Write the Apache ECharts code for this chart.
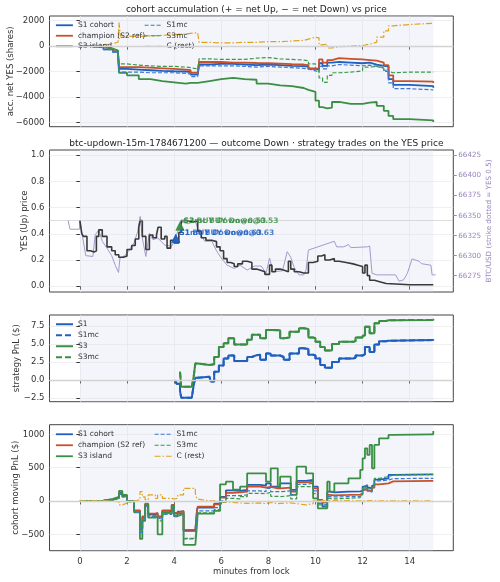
<!DOCTYPE html>
<html>
<head>
<meta charset="utf-8">
<script src="https://cdn.jsdelivr.net/npm/echarts@6.0.0/dist/echarts.min.js"></script>
<style>
  html, body { margin: 0; padding: 0; background: #fff; }
  #chart { width: 500px; height: 582px; }
</style>
</head>
<body>
<div id="chart"></div>
<script>
// ---- panel 1: accumulated net YES shares per cohort
var accMinutes = [0, 0.5, 1.0, 1.4, 1.62, 1.66, 1.72, 2.0, 2.5, 3.0, 3.5, 4.0, 4.5, 4.7, 5.0, 5.06, 5.5, 6.0, 6.5, 7.0,
  7.5, 8.0, 8.5, 9.0, 9.5, 9.7, 10.0, 10.15, 10.3, 10.5, 10.7, 11.0, 11.5, 12.0, 12.3, 12.6, 12.9, 13.1, 13.3, 14.0, 15.0];
var accS1 = [0, -80, -250, -450, -650, -1800, -1800, -1850, -1900, -1950, -1980, -2000, -2050, -2250, -2200, -1450, -1400, -1400, -1450, -1500,
  -1450, -1500, -1550, -1580, -1620, -1800, -1850, -1350, -1550, -1300, -1250, -1300, -1350, -1300, -1450, -1550, -1600, -2600, -3050, -3150, -3270];
var accChamp = [0, -60, -200, -400, -600, -1650, -1650, -1650, -1700, -1750, -1800, -1850, -1900, -2100, -2050, -1250, -1250, -1300, -1300, -1330,
  -1350, -1380, -1420, -1450, -1500, -1750, -1800, -1050, -1300, -1100, -950, -1000, -1050, -1100, -1150, -1300, -1500, -2300, -2750, -2800, -2900];
var accS3 = [0, -50, -200, -350, -600, -2100, -2100, -2300, -2600, -2750, -2850, -2950, -2900, -2900, -2850, -2750, -2600, -2500, -2600, -2650,
  -2950, -3100, -3150, -3300, -3450, -3600, -4300, -4800, -4900, -4850, -4400, -4550, -4550, -4450, -4400, -4700, -5100, -5500, -5750, -5850, -5980];
var accS1mc = [0, -100, -280, -500, -700, -2050, -2050, -2050, -2100, -2100, -2100, -2150, -2200, -2400, -2350, -1550, -1550, -1550, -1600, -1650,
  -1600, -1650, -1700, -1750, -1800, -1950, -2050, -1600, -1800, -1550, -1450, -1500, -1550, -1500, -1600, -1700, -1900, -2900, -3350, -3450, -3490];
var accS3mc = [0, -50, -200, -350, -550, -1400, -1400, -1500, -1550, -1600, -1600, -1650, -1700, -1800, -1750, -1000, -1050, -1050, -1050, -950,
  -900, -1000, -1050, -1100, -1150, -1400, -1900, -2500, -2850, -2300, -2100, -2050, -1950, -1650, -1600, -1750, -2000, -2100, -2050, -2050, -2040];
var accRest = [0, 80, 200, 300, 400, 1850, 800, 750, 800, 850, 900, 950, 1000, 1050, 1000, 300, 250, 250, 300, 300,
  350, 350, 400, 450, 550, 700, 650, 100, 150, -150, -50, 0, 50, 150, 300, 700, 1200, 1600, 1700, 1800, 1780];

// ---- panel 2: YES price and BTC
var yesMinutes = [0, 0.08, 0.15, 0.3, 0.45, 0.6, 0.7, 0.8, 0.95, 1.15, 1.35, 1.5, 1.65, 1.85, 2.0, 2.2, 2.35, 2.5, 2.56, 2.65,
  2.8, 2.95, 3.1, 3.25, 3.32, 3.45, 3.6, 3.7, 3.85, 4.0, 4.2, 4.3, 4.45, 4.6, 4.8, 5.0, 5.15, 5.35, 5.6, 5.8,
  5.95, 6.1, 6.25, 6.4, 6.55, 6.7, 6.9, 7.1, 7.3, 7.5, 7.7, 7.85, 8.05, 8.15, 8.3, 8.5, 8.7, 8.85, 8.95, 9.1,
  9.3, 9.5, 9.7, 9.9, 10.1, 10.25, 10.4, 10.6, 10.8, 11.0, 11.3, 11.6, 11.8, 12.0, 12.1, 12.2, 12.3, 12.5, 12.8, 13.0,
  14.0, 14.9, 15.0];
var yesPrice = [0.50, 0.40, 0.38, 0.27, 0.26, 0.27, 0.38, 0.43, 0.38, 0.30, 0.27, 0.24, 0.22, 0.23, 0.28, 0.31, 0.36, 0.45, 0.50, 0.38,
  0.28, 0.39, 0.37, 0.39, 0.45, 0.36, 0.38, 0.29, 0.35, 0.33, 0.41, 0.50, 0.50, 0.49, 0.50, 0.42, 0.37, 0.35, 0.34, 0.30,
  0.27, 0.21, 0.18, 0.17, 0.15, 0.17, 0.19, 0.18, 0.13, 0.12, 0.11, 0.09, 0.16, 0.11, 0.13, 0.12, 0.11, 0.19, 0.13, 0.11,
  0.10, 0.10, 0.18, 0.19, 0.23, 0.24, 0.20, 0.21, 0.19, 0.18, 0.17, 0.16, 0.15, 0.10, 0.16, 0.08, 0.045, 0.03, 0.02, 0.01,
  0.01, 0.01, 0.005];
var btcMinutes = [-0.5, -0.42, -0.02, 0, 0.1, 0.25, 0.55, 0.65, 0.8, 0.95, 1.2, 1.35, 1.5, 1.64, 1.7, 1.9, 2.07, 2.3, 2.45, 2.56,
  2.65, 2.8, 2.95, 3.1, 3.3, 3.45, 3.6, 3.9, 4.0, 4.3, 4.6, 4.9, 5.05, 5.3, 5.6, 5.8, 6.0, 6.25, 6.55, 6.8,
  7.1, 7.4, 7.7, 7.9, 8.05, 8.2, 8.6, 8.8, 8.95, 9.1, 9.3, 9.5, 9.6, 9.7, 10.8, 10.9, 11.2, 11.4, 11.5, 12.2,
  12.3, 12.4, 12.6, 13.4, 13.55, 13.75, 13.9, 14.1, 14.4, 14.5, 14.9, 14.95, 15.1];
var btcPrice = [66344, 66333, 66333, 66344, 66326, 66300, 66299, 66326, 66332, 66318, 66307, 66300, 66288, 66279, 66297, 66300, 66306, 66316, 66330, 66349,
  66322, 66299, 66328, 66320, 66322, 66318, 66313, 66312, 66318, 66342, 66340, 66343, 66330, 66318, 66318, 66306, 66297, 66288, 66284, 66288,
  66282, 66287, 66287, 66278, 66297, 66280, 66281, 66305, 66298, 66285, 66276, 66276, 66282, 66307, 66318, 66311, 66311, 66314, 66310, 66311,
  66312, 66278, 66276, 66276, 66268, 66270, 66278, 66296, 66293, 66290, 66288, 66276, 66276];
var strikeYes = 0.5;

// trades (YES price at the fill)
var tradeNames = ['S1mc', 'S1', 'S3mc', 'S3'];
var tradeMinutes = [4.07, 4.07, 4.25, 4.25];
var tradeYes = [0.365, 0.365, 0.46, 0.46];
var tradeLabels = ['S1mc BUY Down@0.63', 'S1 BUY Down@0.63', 'S3mc BUY Down@0.53', 'S3 BUY Down@0.53'];

// ---- panel 3: strategy PnL
var stratMinutes = [4.04, 4.1, 4.25, 4.3, 4.75, 4.83, 4.9, 5.0, 5.5, 5.55, 5.7, 5.9, 6.1, 6.3, 6.55, 7.1, 7.3, 7.5, 7.65, 7.9,
  8.1, 8.5, 8.65, 8.9, 9.3, 9.5, 9.7, 9.9, 10.0, 10.2, 10.4, 10.7, 11.0, 11.6, 11.7, 12.0, 12.1, 12.3, 12.5, 12.7,
  13.0, 13.1, 15.0];
var pnlS1 = [0, -0.5, -1.5, -2.45, -2.45, -0.7, 0.3, 0.45, 0.4, -0.2, 1.15, 2.0, 3.0, 3.4, 2.65, 3.2, 3.45, 3.5, 2.8, 3.7,
  3.4, 3.2, 2.8, 3.7, 4.4, 4.3, 3.5, 3.4, 3.0, 2.1, 1.7, 2.5, 3.0, 3.1, 3.4, 3.6, 4.6, 3.9, 4.95, 5.4,
  5.45, 5.55, 5.65];
var pnlS1mc = [0, -0.5, -1.5, -2.45, -2.45, -0.7, 0.3, 0.45, 0.4, -0.2, 1.15, 2.0, 3.0, 3.4, 2.65, 3.2, 3.45, 3.5, 2.8, 3.7,
  3.4, 3.2, 2.8, 3.7, 4.4, 4.3, 3.5, 3.4, 3.0, 2.1, 1.7, 2.5, 3.0, 3.1, 3.4, 3.6, 4.6, 3.9, 4.95, 5.4,
  5.45, 5.55, 5.65];
var pnlS3 = [null, null, 1.15, -0.93, -0.93, 0.46, 2.3, 2.1, 2.0, 2.2, 3.2, 4.6, 5.1, 5.8, 4.95, 5.6, 6.3, 6.3, 5.8, 6.95,
  6.9, 5.8, 5.9, 6.7, 7.2, 7.1, 5.9, 5.8, 5.3, 4.6, 4.1, 5.0, 5.3, 5.4, 5.9, 6.2, 7.4, 6.5, 7.9, 8.2,
  8.3, 8.35, 8.5];
var pnlS3mc = [null, null, 1.15, -0.93, -0.93, 0.46, 2.3, 2.1, 2.0, 2.2, 3.2, 4.6, 5.1, 5.8, 4.95, 5.6, 6.3, 6.3, 5.8, 6.95,
  6.9, 5.8, 5.9, 6.7, 7.2, 7.1, 5.9, 5.8, 5.3, 4.6, 4.1, 5.0, 5.3, 5.4, 5.9, 6.2, 7.4, 6.5, 7.9, 8.2,
  8.3, 8.35, 8.5];

// ---- panel 4: cohort moving PnL
var movMinutes = [0, 0.5, 1.0, 1.4, 1.66, 1.8, 2.0, 2.3, 2.55, 2.65, 2.77, 2.9, 3.2, 3.3, 3.5, 3.8, 3.9, 4.0, 4.15, 4.4,
  4.9, 4.97, 5.0, 5.5, 5.7, 5.95, 6.2, 6.5, 6.8, 7.1, 7.65, 7.9, 8.1, 8.4, 8.5, 8.95, 9.2, 9.6, 9.9, 10.1,
  10.3, 10.5, 10.6, 10.8, 11.4, 11.9, 12.0, 12.1, 12.2, 12.3, 12.4, 12.5, 12.7, 13.1, 13.3, 14.9, 15.0];
var movS1 = [0, 5, 20, 50, 120, 80, 0, -150, -420, -250, -50, -200, -190, -240, -150, -160, -60, -190, -160, -450,
  -450, -140, -100, -100, -40, 60, 160, 150, 165, 240, 230, 265, 215, 220, 265, 165, 300, 315, 215, -10,
  -85, 140, 130, 140, 145, 150, 215, 240, 200, 180, 230, 320, 340, 390, 400, 400, 410];
var movChamp = [0, 5, 20, 45, 110, 70, 0, -140, -400, -230, -40, -190, -180, -230, -140, -150, -60, -180, -150, -435,
  -435, -150, -85, -85, -50, 50, 120, 130, 140, 215, 200, 210, 190, 190, 200, 140, 280, 290, 190, 15,
  -20, 90, 85, 90, 95, 110, 165, 190, 150, 150, 200, 250, 265, 295, 300, 300, 300];
var movS3 = [0, 5, 30, 60, 150, 90, 0, -170, -570, -300, -60, -250, -230, -500, -180, -190, -70, -230, -190, -660,
  -660, -360, -190, -190, -150, 250, 290, 170, 215, 415, 415, 290, 490, 205, 365, 90, 515, 415, 40, -110,
  -110, 290, 140, 265, 340, 465, 640, 790, 690, 840, 490, 840, 940, 990, 1000, 1000, 1050];
var movS1mc = [0, 0, 10, 40, 100, 60, -10, -170, -470, -300, -80, -230, -250, -280, -200, -200, -100, -230, -200, -570,
  -570, -200, -150, -150, -100, 0, 80, 80, 90, 150, 140, 190, 140, 140, 150, 90, 250, 265, 150, -40,
  -60, 65, 60, 65, 70, 90, 165, 200, 150, 130, 200, 300, 315, 335, 340, 340, 340];
var movS3mc = [0, 0, 15, 45, 110, 60, -10, -160, -450, -280, -70, -220, -230, -300, -190, -190, -90, -220, -190, -560,
  -560, -250, -180, -180, -130, -20, 40, 30, 65, 115, 110, 130, 70, 65, 80, 30, 215, 215, 110, -60,
  -85, 40, 30, 40, 50, 90, 190, 230, 180, 160, 230, 340, 365, 390, 395, 395, 405];
var movRest = [0, 0, -5, -10, -60, -30, 0, 20, 140, 60, 20, 90, 40, 90, 40, 40, 30, 40, 90, 190,
  115, 30, 0, 0, -10, -15, -20, -30, -35, -30, -40, -20, -40, -35, -30, -40, -60, -40, 0, 5,
  -5, 5, 5, 5, 0, 0, 0, 5, 5, 0, 5, 0, 0, 0, 0, -10, -30];

// ---- tick labels
var xTicks = [0, 2, 4, 6, 8, 10, 12, 14];
var accTicks = [-6000, -4000, -2000, 0, 2000];
var yesTicks = [0, 0.2, 0.4, 0.6, 0.8, 1.0];
var btcTicks = [66275, 66300, 66325, 66350, 66375, 66400, 66425];
var stratTicks = [-2.5, 0, 2.5, 5, 7.5];
var movTicks = [-500, 0, 500, 1000];

var FONT = 'DejaVu Sans';
var TXT = '#333';
var BLUE = '#1f5fbf', RED = '#c8502a', GREEN = '#3a8f44', GOLD = '#e0a21c';
var BLUE_MC = '#3b78d0', GREEN_MC = '#3a9a48', PURPLE = '#a898cc', PURPLE_TXT = '#9a86c0';
var DASH = [4, 2], DASH_DOT = [6, 2, 1.5, 2], DASH_BIG = [6, 3];

function pairs(t, v) {
  var out = [];
  for (var i = 0; i < t.length; i++) out.push([t[i], v[i]]);
  return out;
}

function fmt(step, digits) {
  return function (v) {
    var k = v / step;
    if (Math.abs(k - Math.round(k)) > 1e-6) return '';
    return (Math.round(k) * step).toFixed(digits).replace('-', '\u2212');
  };
}

function line(name, idx, yIdx, t, v, color, width, dash, stepped) {
  return {
    type: 'line', name: name, xAxisIndex: idx, yAxisIndex: yIdx,
    data: pairs(t, v), step: stepped === false ? false : 'end',
    symbol: 'none', silent: true, connectNulls: false,
    lineStyle: { color: color, width: width, type: dash || 'solid' },
    itemStyle: { color: color }
  };
}

// shaded 0..15 window and a reference line, one per panel
function backdrop(idx, yIdx, refValue, refStyle) {
  return {
    type: 'line', name: '_bg' + idx, xAxisIndex: idx, yAxisIndex: yIdx, data: [], z: 1, silent: true,
    markArea: { silent: true, itemStyle: { color: 'rgba(214,222,240,0.3)' }, data: [[{ xAxis: 0 }, { xAxis: 15 }]] },
    markLine: { silent: true, symbol: 'none', label: { show: false }, lineStyle: refStyle, data: [{ yAxis: refValue }] }
  };
}

var zeroStyle = { color: '#d2d2d2', width: 1.3, type: 'solid' };

var grids = [
  { left: 49.5, right: 46.7, top: 16, height: 110.7 },
  { left: 49.5, right: 46.7, top: 150, height: 142 },
  { left: 49.5, right: 46.7, top: 315, height: 86.7 },
  { left: 49.5, right: 46.7, top: 424.7, height: 126 }
].map(function (g) {
  g.show = true; g.borderColor = '#444'; g.borderWidth = 1; g.backgroundColor = '#fff';
  g.containLabel = false; g.outerBoundsMode = 'none';
  return g;
});

var xAxes = [0, 1, 2, 3].map(function (i) {
  return {
    type: 'value', gridIndex: i, min: -1.29, max: 15.85, splitNumber: 8, minInterval: 2, maxInterval: 2,
    axisLine: { show: false },
    axisTick: { show: true, length: 3.5, lineStyle: { color: TXT }, customValues: xTicks },
    axisLabel: { show: i === 3, customValues: xTicks, formatter: fmt(2, 0), fontSize: 8.5, color: TXT, fontFamily: FONT, margin: 7 },
    splitLine: { show: true, lineStyle: { color: '#ebebeb', width: 0.8 } },
    name: i === 3 ? 'minutes from lock' : '', nameLocation: 'middle', nameGap: 17,
    nameTextStyle: { fontSize: 8.5, color: TXT, fontFamily: FONT }
  };
});

function yAxis(grid, min, max, step, digits, ticks, pos, color) {
  return {
    type: 'value', gridIndex: grid, min: min, max: max, minInterval: step, maxInterval: step, splitNumber: 5,
    position: pos || 'left',
    axisLine: { show: false },
    axisTick: { show: true, length: 3.5, lineStyle: { color: color || TXT }, customValues: ticks },
    axisLabel: { customValues: ticks, formatter: fmt(step, digits), fontSize: pos ? 7.2 : 8.5, color: color || TXT, fontFamily: FONT, margin: 5 },
    splitLine: { show: !pos, lineStyle: { color: '#ebebeb', width: 0.8 } }
  };
}

var yAxes = [
  yAxis(0, -6346, 2370, 2000, 0, accTicks),
  yAxis(1, -0.045, 1.04, 0.2, 1, yesTicks),
  yAxis(1, 66254.6, 66432, 25, 0, btcTicks, 'right', PURPLE_TXT),
  yAxis(2, -3.01, 9.03, 2.5, 1, stratTicks),
  yAxis(3, -746, 1144, 500, 0, movTicks)
];

// rotated axis titles
var axisNames = ['acc. net YES (shares)', 'YES (Up) price', 'BTC/USD (strike dotted = YES 0.5)', 'strategy PnL ($)', 'cohort moving PnL ($)'];
var axisNameX = [10.5, 25, 489, 17, 15.5];
var axisNameY = [71.3, 221, 221, 358.3, 487.7];
var axisNameSize = [8.5, 8.5, 7.2, 8.5, 8.5];
var graphics = axisNames.map(function (n, i) {
  return {
    type: 'text', x: axisNameX[i], y: axisNameY[i], rotation: Math.PI / 2, silent: true,
    style: {
      text: n, align: 'center', verticalAlign: 'middle', fill: i === 2 ? PURPLE_TXT : TXT,
      font: axisNameSize[i] + 'px "' + FONT + '"'
    }
  };
});

var series = [
  backdrop(0, 0, 0, zeroStyle),
  backdrop(1, 1, strikeYes, { color: '#bbbbbb', width: 1, type: 'dotted' }),
  backdrop(2, 3, 0, zeroStyle),
  backdrop(3, 4, 0, zeroStyle),

  line('S1 cohort', 0, 0, accMinutes, accS1, BLUE, 1.8),
  line('champion (S2 ref)', 0, 0, accMinutes, accChamp, RED, 1.8),
  line('S3 island', 0, 0, accMinutes, accS3, GREEN, 1.8),
  line('S1mc', 0, 0, accMinutes, accS1mc, BLUE_MC, 1.2, DASH),
  line('S3mc', 0, 0, accMinutes, accS3mc, GREEN_MC, 1.2, DASH),
  line('C (rest)', 0, 0, accMinutes, accRest, GOLD, 1.2, DASH_DOT),

  line('BTC', 1, 2, btcMinutes, btcPrice, PURPLE, 1, 'solid', false),
  line('YES', 1, 1, yesMinutes, yesPrice, '#3a3a3a', 1.6),

  line('S1mc', 2, 3, stratMinutes, pnlS1mc, BLUE, 2, DASH_BIG),
  line('S3mc', 2, 3, stratMinutes, pnlS3mc, GREEN, 2, DASH_BIG),
  line('S1', 2, 3, stratMinutes, pnlS1, BLUE, 2),
  line('S3', 2, 3, stratMinutes, pnlS3, GREEN, 2),

  line('S1 cohort', 3, 4, movMinutes, movS1, BLUE, 1.8),
  line('champion (S2 ref)', 3, 4, movMinutes, movChamp, RED, 1.8),
  line('S3 island', 3, 4, movMinutes, movS3, GREEN, 1.8),
  line('S1mc', 3, 4, movMinutes, movS1mc, BLUE_MC, 1.2, DASH),
  line('S3mc', 3, 4, movMinutes, movS3mc, GREEN_MC, 1.2, DASH),
  line('C (rest)', 3, 4, movMinutes, movRest, GOLD, 1.2, DASH_DOT)
];

tradeNames.forEach(function (n, i) {
  var c = n.indexOf('S1') === 0 ? BLUE : GREEN;
  series.push({
    type: 'scatter', name: 'trade ' + n, xAxisIndex: 1, yAxisIndex: 1, z: 5, silent: true,
    data: [[tradeMinutes[i], tradeYes[i]]], symbol: 'triangle', symbolSize: 9,
    itemStyle: { color: c },
    label: {
      show: true, position: 'right', distance: 0, offset: [-1, -5], formatter: tradeLabels[i],
      color: c, fontSize: 7.5, fontWeight: 'bold', fontFamily: FONT
    }
  });
});

// legend keys: line only, the marker in the middle is made transparent
function legendItem(name, color, width, dash) {
  return {
    name: name,
    lineStyle: { color: color, width: width, type: dash || 'solid', opacity: 1 },
    itemStyle: { color: 'rgba(0,0,0,0)', borderWidth: 0, borderColor: 'rgba(0,0,0,0)' }
  };
}

function legend(left, top, gap, items) {
  return {
    orient: 'vertical', left: left, top: top, padding: 0, itemGap: gap, itemWidth: 17, itemHeight: 8,
    selectedMode: false,
    textStyle: { fontSize: 7.5, color: TXT, fontFamily: FONT, lineHeight: 9.5 },
    data: items
  };
}

var cohortCol1 = [legendItem('S1 cohort', BLUE, 1.8), legendItem('champion (S2 ref)', RED, 1.8), legendItem('S3 island', GREEN, 1.8)];
var cohortCol2 = [legendItem('S1mc', BLUE_MC, 1.2, DASH), legendItem('S3mc', GREEN_MC, 1.2, DASH), legendItem('C (rest)', GOLD, 1.2, DASH_DOT)];

var option = {
  animation: false,
  backgroundColor: '#fff',
  textStyle: { fontFamily: FONT },
  title: [
    { text: 'cohort accumulation (+ = net Up, \u2212 = net Down) vs price', left: 251.4, top: 0, textAlign: 'center',
      textStyle: { fontSize: 9, fontWeight: 'normal', color: '#222', fontFamily: FONT } },
    { text: 'btc-updown-15m-1784671200 \u2014 outcome Down \u00b7 strategy trades on the YES price', left: 251.4, top: 134, textAlign: 'center',
      textStyle: { fontSize: 9, fontWeight: 'normal', color: '#222', fontFamily: FONT } }
  ],
  legend: [
    legend(55, 20.5, 1, cohortCol1),
    legend(144, 20.5, 1, cohortCol2),
    legend(55, 319.5, 1.5, [legendItem('S1', BLUE, 2), legendItem('S1mc', BLUE, 2, DASH_BIG),
      legendItem('S3', GREEN, 2), legendItem('S3mc', GREEN, 2, DASH_BIG)]),
    legend(55, 429.5, 1.5, cohortCol1),
    legend(154, 429.5, 1.5, cohortCol2)
  ],
  graphic: graphics,
  grid: grids,
  xAxis: xAxes,
  yAxis: yAxes,
  series: series
};

var chart = echarts.init(document.getElementById('chart'), null, { renderer: 'canvas' });
chart.setOption(option);
</script>
</body>
</html>
